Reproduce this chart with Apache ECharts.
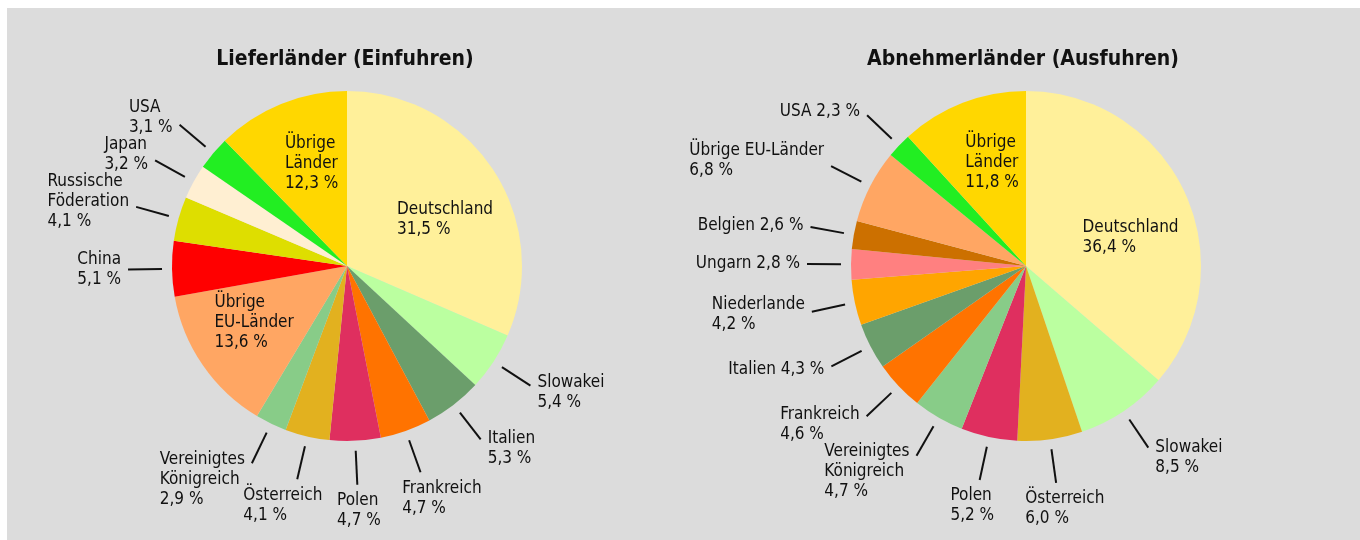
<!DOCTYPE html>
<html lang="de">
<head>
    <meta charset="UTF-8" />
    <title>Lieferländer und Abnehmerländer</title>
    <script src="https://cdn.jsdelivr.net/npm/echarts@6/dist/echarts.min.js"></script>
    <style>
        body { margin: 0; background: #fff; }
        #wrap { position: absolute; left: 7px; top: 8px; width: 1353px; height: 532px; background: #dcdcdc; }
        #chart { width: 1353px; height: 532px; }
    </style>
</head>
<body>
    <div id="wrap"><div id="chart"></div></div>

    <script>
        // Einfuhren (Lieferländer)
        var einNamen = ["Deutschland", "Slowakei", "Italien", "Frankreich", "Polen", "Österreich",
            "Vereinigtes\nKönigreich", "Übrige\nEU-Länder", "China", "Russische\nFöderation",
            "Japan", "USA", "Übrige\nLänder"];
        var einWerte = [31.5, 5.4, 5.3, 4.7, 4.7, 4.1, 2.9, 13.6, 5.1, 4.1, 3.2, 3.1, 12.3];
        var einFarben = ["#fff09a", "#bbffa0", "#6b9e6b", "#ff7300", "#df2f5f", "#e2b11f",
            "#88cc88", "#ffa663", "#ff0000", "#dede00", "#ffefd2", "#22ee22", "#ffd700"];
        var einInnen = ["Deutschland", "Übrige\nEU-Länder", "Übrige\nLänder"];
        var einEinzeilig = [];

        // Ausfuhren (Abnehmerländer)
        var ausNamen = ["Deutschland", "Slowakei", "Österreich", "Polen", "Vereinigtes\nKönigreich",
            "Frankreich", "Italien", "Niederlande", "Ungarn", "Belgien", "Übrige EU-Länder",
            "USA", "Übrige\nLänder"];
        var ausWerte = [36.4, 8.5, 6.0, 5.2, 4.7, 4.6, 4.3, 4.2, 2.8, 2.6, 6.8, 2.3, 11.8];
        var ausFarben = ["#fff09a", "#bbffa0", "#e2b11f", "#df2f5f", "#88cc88", "#ff7300",
            "#6b9e6b", "#ffa500", "#ff8080", "#cc7000", "#ffa663", "#22ee22", "#ffd700"];
        var ausInnen = ["Deutschland", "Übrige\nLänder"];
        var ausEinzeilig = ["USA", "Belgien", "Ungarn", "Italien"];

        var schrift = "'Liberation Sans Narrow', 'DejaVu Sans Condensed', sans-serif";
        var R = 175;

        // Winkel (von oben, im Uhrzeigersinn) an Anteil f innerhalb jedes Segments
        function segmentWinkel(werte, f) {
            var summe = werte.reduce(function (a, b) { return a + b; }, 0);
            var acc = 0;
            return werte.map(function (v) {
                var w = (acc + v * f) / summe * 2 * Math.PI;
                acc += v;
                return w;
            });
        }

        // Beschriftungen aussen mit kurzer, abgesetzter Linie
        function labelPlatz(cx, cy, werte, namen, innen) {
            var mitte = segmentWinkel(werte, 0.5);
            var innenW = segmentWinkel(werte, 0.57);
            return function (p) {
                var w = p.labelRect.width, h = p.labelRect.height;
                var a, dx, dy;
                if (innen.indexOf(namen[p.dataIndex]) >= 0) {
                    a = innenW[p.dataIndex];
                    dx = Math.sin(a); dy = -Math.cos(a);
                    var ir = R * 0.62;
                    return { x: cx + dx * ir - w / 2, y: cy + dy * ir - h / 2, align: "left", verticalAlign: "top" };
                }
                a = mitte[p.dataIndex];
                dx = Math.sin(a); dy = -Math.cos(a);
                var r1 = R + 10, r2 = R + 44;
                var ex = cx + dx * r2, ey = cy + dy * r2;
                var x, y;
                if (Math.abs(dx) > 0.4) {
                    x = dx > 0 ? ex + 7 : ex - 7 - w;
                    y = ey + dy * h * 0.3 - h / 2;
                } else {
                    x = ex + dx * w * 0.8 - w / 2;
                    y = dy > 0 ? ey + 6 : ey - 6 - h;
                }
                return {
                    x: x, y: y, align: "left", verticalAlign: "top",
                    labelLinePoints: [[cx + dx * r1, cy + dy * r1], [ex, ey], [ex, ey]]
                };
            };
        }

        function baueDaten(namen, werte, farben, innen) {
            return namen.map(function (n, i) {
                var d = { name: n, value: werte[i], itemStyle: { color: farben[i] } };
                if (innen.indexOf(n) >= 0) {
                    d.label = { position: "inside" };
                    d.labelLine = { show: false };
                }
                return d;
            });
        }

        function baueSerie(cx, cy, namen, werte, farben, innen, einzeilig) {
            return {
                type: "pie",
                center: [cx, cy],
                radius: R,
                startAngle: 90,
                clockwise: true,
                avoidLabelOverlap: false,
                silent: true,
                itemStyle: { borderWidth: 0 },
                label: {
                    show: true,
                    position: "outside",
                    fontFamily: schrift,
                    fontSize: 17,
                    lineHeight: 20,
                    color: "#111",
                    formatter: function (p) {
                        var sep = einzeilig.indexOf(p.name) >= 0 ? " " : "\n";
                        return p.name + sep + p.value.toFixed(1).replace(".", ",") + " %";
                    }
                },
                labelLine: { show: true, length: 20, length2: 0, lineStyle: { color: "#111", width: 2 } },
                labelLayout: labelPlatz(cx, cy, werte, namen, innen),
                data: baueDaten(namen, werte, farben, innen)
            };
        }

        var chart = echarts.init(document.getElementById("chart"));
        var option = {
            animation: false,
            title: [
                {
                    text: "Lieferländer (Einfuhren)", left: 333, top: 36, textAlign: "center",
                    textStyle: { fontFamily: schrift, fontSize: 21, fontWeight: "bold", color: "#111" }
                },
                {
                    text: "Abnehmerländer (Ausfuhren)", left: 1011, top: 36, textAlign: "center",
                    textStyle: { fontFamily: schrift, fontSize: 21, fontWeight: "bold", color: "#111" }
                }
            ],
            series: [
                baueSerie(340, 258, einNamen, einWerte, einFarben, einInnen, einEinzeilig),
                baueSerie(1019, 258, ausNamen, ausWerte, ausFarben, ausInnen, ausEinzeilig)
            ]
        };
        chart.setOption(option);
    </script>
</body>
</html>
